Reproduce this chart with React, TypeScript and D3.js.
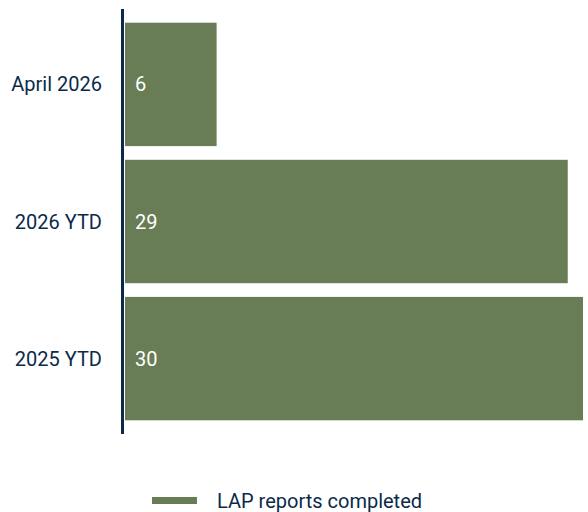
import React from "react";
import * as d3 from "d3";

const categories = ["April 2026", "2026 YTD", "2025 YTD"];
const values = [6, 29, 30];
const seriesName = "LAP reports completed";

const width = 588;
const height = 512;
const barColor = "#687c55";
const axisColor = "#0b2a4a";
const font = "Roboto, sans-serif";
const fontSize = 20;

export default function App() {
  const x = d3.scaleLinear().domain([0, d3.max(values) as number]).range([125, 583]);
  const y = d3.scaleBand().domain(categories).range([9, 434]).padding(0.1);

  return (
    <svg width={width} height={height} style={{ position: "absolute", left: 0, top: 0 }}>
      {categories.map((c, i) => (
        <g key={c}>
          <rect
            x={x(0)}
            y={y(c)}
            width={x(values[i]) - x(0)}
            height={y.bandwidth()}
            fill={barColor}
          />
          <text
            x={x(0) + 10}
            y={(y(c) as number) + y.bandwidth() / 2}
            dy="0.35em"
            fill="#ffffff"
            fontFamily={font}
            fontSize={fontSize}
          >
            {values[i]}
          </text>
          <text
            x={102}
            y={(y(c) as number) + y.bandwidth() / 2}
            dy="0.35em"
            textAnchor="end"
            fill={axisColor}
            fontFamily={font}
            fontSize={fontSize}
          >
            {c}
          </text>
        </g>
      ))}
      <line x1={122.5} x2={122.5} y1={9} y2={434} stroke={axisColor} strokeWidth={3} />
      {/* legend */}
      <rect x={152} y={497} width={45} height={7} fill={barColor} />
      <text x={217} y={500.5} dy="0.35em" fill={axisColor} fontFamily={font} fontSize={fontSize}>
        {seriesName}
      </text>
    </svg>
  );
}
